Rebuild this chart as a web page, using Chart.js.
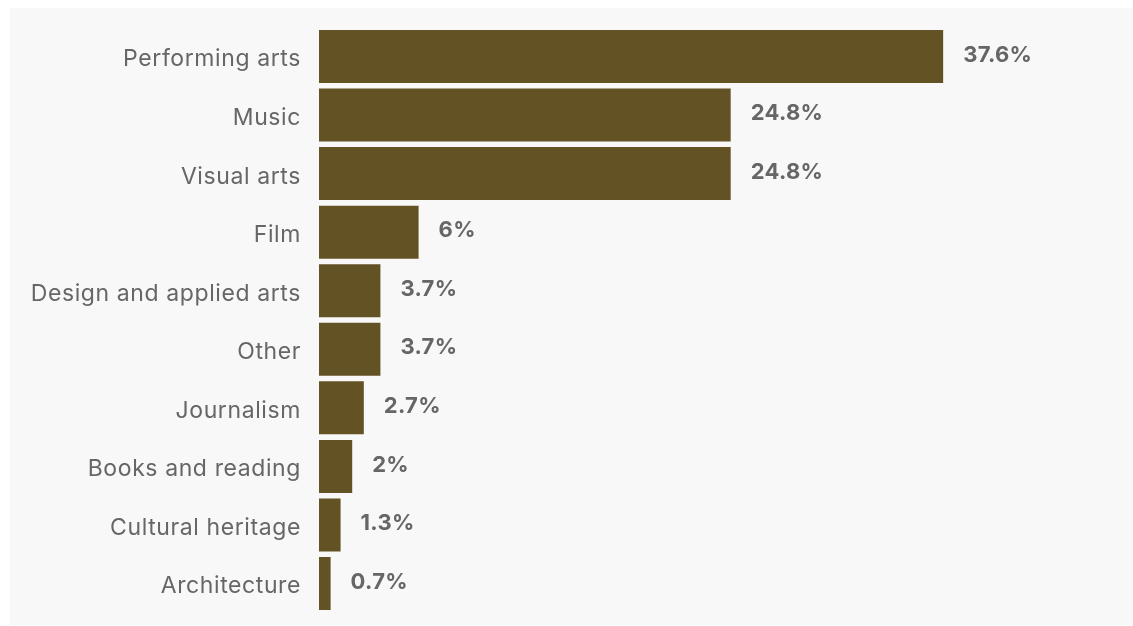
<!DOCTYPE html>
<html>
<head>
<meta charset="utf-8">
<script src="https://cdn.jsdelivr.net/npm/chart.js@4"></script>
<style>
  html, body { margin: 0; padding: 0; background: #ffffff; }
  #panel {
    position: absolute; left: 10px; top: 8px;
    width: 1123px; height: 617px;
    background: #f8f8f8;
  }
  #chart { display: block; }
</style>
</head>
<body>
<div id="panel"><canvas id="chart" width="1123" height="617"></canvas></div>
<script>
// Share of respondents by cultural field (%)
const categories = [
  'Performing arts', 'Music', 'Visual arts', 'Film', 'Design and applied arts',
  'Other', 'Journalism', 'Books and reading', 'Cultural heritage', 'Architecture'
];
const shares = [37.6, 24.8, 24.8, 6, 3.7, 3.7, 2.7, 2, 1.3, 0.7];

const BAR_COLOR = '#635223';
const TEXT_COLOR = '#666666';

// Letter spacing for the category labels on the left
const spacingPlugin = {
  id: 'labelSpacing',
  beforeDraw(chart) { chart.ctx.letterSpacing = '0.6px'; },
  afterDraw(chart) { chart.ctx.letterSpacing = '0px'; }
};

// Bold value label just past the end of each bar
const valueLabels = {
  id: 'valueLabels',
  afterDatasetsDraw(chart) {
    const ctx = chart.ctx;
    const meta = chart.getDatasetMeta(0);
    ctx.save();
    ctx.letterSpacing = '0.3px';
    ctx.font = 'bold 22px Inter';
    ctx.fillStyle = TEXT_COLOR;
    ctx.textAlign = 'left';
    ctx.textBaseline = 'middle';
    meta.data.forEach((bar, i) => {
      ctx.fillText(shares[i] + '%', bar.x + 20, bar.y - 1.5);
    });
    ctx.restore();
  }
};

new Chart(document.getElementById('chart'), {
  type: 'bar',
  data: {
    labels: categories,
    datasets: [{
      data: shares,
      backgroundColor: BAR_COLOR,
      borderWidth: 0,
      barPercentage: 1,
      categoryPercentage: 0.905
    }]
  },
  options: {
    indexAxis: 'y',
    responsive: false,
    animation: false,
    layout: { padding: { top: 19.2, bottom: 12.2, left: 0, right: 67 } },
    plugins: { legend: { display: false }, tooltip: { enabled: false } },
    scales: {
      x: {
        display: false,
        min: 0,
        max: 45
      },
      y: {
        afterFit(scale) {
          scale.width = 309;
          scale.paddingTop = 0;
          scale.paddingBottom = 0;
        },
        border: { display: false },
        grid: { display: false, drawTicks: false },
        ticks: {
          color: TEXT_COLOR,
          padding: 18,
          labelOffset: 3,
          font: { family: 'Inter', size: 23, weight: 'normal' }
        }
      }
    }
  },
  plugins: [spacingPlugin, valueLabels]
});
</script>
</body>
</html>
